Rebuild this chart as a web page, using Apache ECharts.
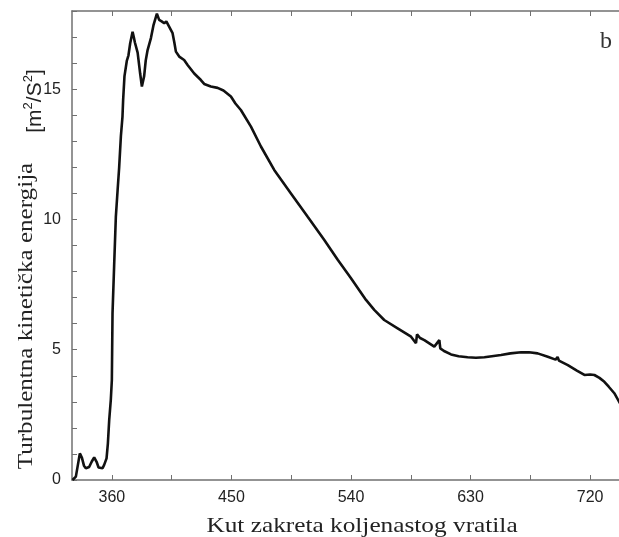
<!DOCTYPE html>
<html>
<head>
<meta charset="utf-8">
<script src="https://cdn.jsdelivr.net/npm/echarts@6/dist/echarts.min.js"></script>
<style>
  html, body { margin: 0; padding: 0; background: #fff; }
  #chart { width: 619px; height: 537px; }
</style>
</head>
<body>
<div id="chart"></div>
<script>
// kut zakreta (stupnjevi KV) i turbulentna kineticka energija [m2/s2], ocitano sa slike
const angle = [
  330.4, 332.9, 334.5, 335.9, 337.5, 339, 340.4, 342.9, 344.8, 346.7,
  348.5, 350, 351.2, 353, 354.2, 356, 357, 358, 359.2, 360,
  360.5, 361.7, 363, 364.3, 365.5, 366.8, 368, 368.5, 369.5, 371.3,
  372.5, 373.8, 375.6, 376.5, 377.3, 379.4, 381.3, 382.6, 384.3, 385.5,
  386.9, 389.4, 391.4, 393.9, 395.6, 397.5, 399.4, 401, 403.1, 405.7,
  407, 408.2, 410.7, 414.4, 417, 422, 427, 429.5, 434.5, 439.6,
  444, 449.6, 453, 457.1, 464.7, 472.2, 482.2, 494.8, 507.4, 519.9,
  530, 540, 551.3, 557.5, 565, 575.1, 585.2, 588.9, 589.7, 592,
  595.2, 602.7, 606.5, 607.2, 610, 615.3, 621, 627.8, 634, 640.4,
  646, 652.9, 660, 668, 674, 680.5, 688.1, 694, 695.5, 696.5,
  703.2, 710, 715.7, 720, 723.2, 727, 730.7, 734, 738.2, 742.5
]
const energy = [
  0, 0.13, 0.6, 1.02, 0.85, 0.55, 0.45, 0.5, 0.7, 0.87,
  0.7, 0.48, 0.41, 0.45, 0.58, 0.83, 1.4, 2.3, 3.07, 3.84,
  6.4, 8.2, 10.1, 11.1, 12.0, 13.2, 13.95, 14.6, 15.5, 16.1,
  16.3, 16.76, 17.2, 17.0, 16.8, 16.4, 15.6, 15.1, 15.5, 16.1,
  16.5, 16.96, 17.47, 17.9, 17.66, 17.6, 17.53, 17.6, 17.4, 17.15,
  16.8, 16.44, 16.25, 16.12, 15.93, 15.6, 15.35, 15.2, 15.1, 15.05,
  14.95, 14.72, 14.45, 14.2, 13.56, 12.8, 11.9, 11.0, 10.1, 9.21,
  8.45, 7.74, 6.91, 6.53, 6.14, 5.82, 5.5, 5.25, 5.59, 5.45,
  5.37, 5.12, 5.37, 5.05, 4.95, 4.82, 4.75, 4.71, 4.69, 4.71,
  4.75, 4.8, 4.86, 4.9, 4.9, 4.86, 4.73, 4.62, 4.72, 4.58,
  4.41, 4.2, 4.03, 4.05, 4.03, 3.92, 3.77, 3.58, 3.33, 2.94
]
const xLabels = [360, 450, 540, 630, 720]
const xTicks = [360, 405, 450, 495, 540, 585, 630, 675, 720]
const yLabels = [0, 5, 10, 15]

const axisGray = '#707070'
const chart = echarts.init(document.getElementById('chart'))

const xCommon = {
  type: 'value',
  min: 330,
  max: 750,
  axisLine: { show: true, onZero: false, lineStyle: { color: axisGray, width: 1.5 } },
  axisTick: { show: true, inside: true, length: 5, customValues: xTicks, lineStyle: { color: axisGray } },
  splitLine: { show: false }
}

const option = {
  backgroundColor: '#fff',
  animation: false,
  // desni rub grafa je izvan slike (slika je odrezana)
  grid: { left: 72, top: 11, width: 558, height: 469, outerBoundsMode: 'none', containLabel: false },
  xAxis: [
    Object.assign({}, xCommon, {
      position: 'bottom',
      axisLabel: {
        customValues: xLabels,
        margin: 10,
        fontSize: 16,
        fontFamily: 'Liberation Sans',
        color: '#222'
      }
    }),
    Object.assign({}, xCommon, {
      position: 'top',
      axisLabel: { show: false }
    })
  ],
  yAxis: {
    type: 'value',
    min: 0,
    max: 18,
    interval: 1,
    axisLine: { show: true, lineStyle: { color: axisGray, width: 1.5 } },
    axisTick: { show: true, inside: true, length: 5, lineStyle: { color: axisGray } },
    axisLabel: {
      customValues: yLabels,
      margin: 11,
      fontSize: 16,
      fontFamily: 'Liberation Sans',
      color: '#222'
    },
    splitLine: { show: false }
  },
  series: [
    {
      type: 'line',
      xAxisIndex: 0,
      showSymbol: false,
      data: angle.map((a, i) => [a, energy[i]]),
      lineStyle: { color: '#111', width: 2.6 }
    }
  ],
  graphic: [
    {
      type: 'text',
      x: 26,
      y: 316,
      rotation: Math.PI / 2,
      scaleX: 1.14,
      style: {
        text: 'Turbulentna kinetička energija',
        font: '22px "Liberation Serif"',
        fill: '#222',
        textAlign: 'center',
        textVerticalAlign: 'middle'
      }
    },
    {
      type: 'text',
      x: 34,
      y: 101,
      rotation: Math.PI / 2,
      style: {
        text: '{m|[m}{s|2}{m|/S}{s|2}{m|]}',
        fill: '#222',
        textAlign: 'center',
        textVerticalAlign: 'middle',
        rich: {
          m: { fontSize: 21, fontFamily: 'Liberation Sans', lineHeight: 24, verticalAlign: 'bottom', fill: '#222' },
          s: { fontSize: 13, fontFamily: 'Liberation Sans', lineHeight: 24, verticalAlign: 'top', fill: '#222' }
        }
      }
    },
    {
      type: 'text',
      x: 362,
      y: 526,
      scaleX: 1.15,
      style: {
        text: 'Kut zakreta koljenastog vratila',
        font: '22px "Liberation Serif"',
        fill: '#222',
        textAlign: 'center',
        textVerticalAlign: 'middle'
      }
    },
    {
      type: 'text',
      x: 606,
      y: 42,
      style: {
        text: 'b',
        font: '24px "Liberation Serif"',
        fill: '#333',
        textAlign: 'center',
        textVerticalAlign: 'middle'
      }
    }
  ]
}

chart.setOption(option)
</script>
</body>
</html>
